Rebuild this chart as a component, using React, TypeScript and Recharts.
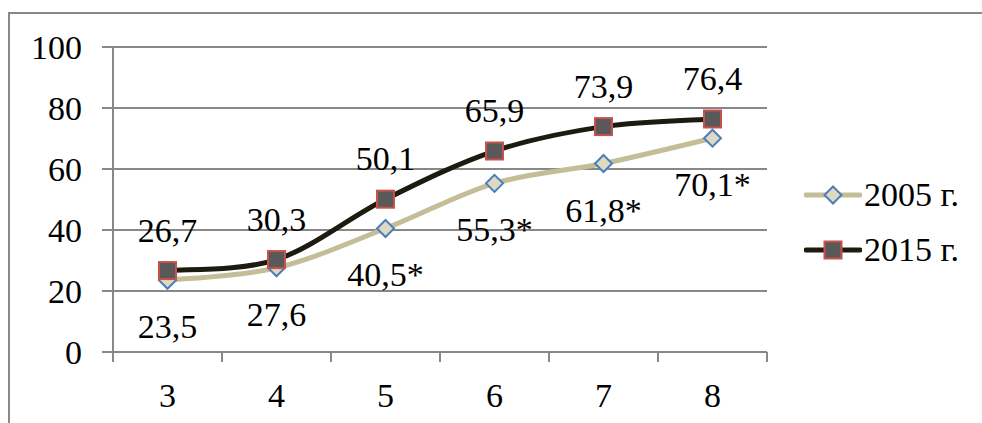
import React from "react";
import { LineChart, Line, XAxis, YAxis, CartesianGrid, LabelList } from "recharts";

// grade (class) on the x axis, share in % on the y axis
const categories = [3, 4, 5, 6, 7, 8];
const values2005 = [23.5, 27.6, 40.5, 55.3, 61.8, 70.1];
const values2015 = [26.7, 30.3, 50.1, 65.9, 73.9, 76.4];
// asterisk marks a significant difference from 2015
const starred2005 = [false, false, true, true, true, true];
const yTicks = [0, 20, 40, 60, 80, 100];

const W = 982;
const H = 423;
const FONT = "'Liberation Serif'";
const GRID = "#888888";

const C2005 = { line: "#c4bd97", fill: "#ddd9c3", stroke: "#4a7ebb" };
const C2015 = { line: "#1d1b10", fill: "#595959", stroke: "#c8504d" };

const series = [
  { key: "y2005", name: "2005 г.", colors: C2005, marker: "diamond" },
  { key: "y2015", name: "2015 г.", colors: C2015, marker: "square" },
];

const data = categories.map((c, i) => ({
  cat: c,
  y2005: values2005[i],
  y2015: values2015[i],
}));

// ticks between categories carry the tick marks, ticks on categories carry labels
const edges = [...categories.map((c) => c - 0.5), categories[categories.length - 1] + 0.5];
const xTicks = [...edges, ...categories].sort((a, b) => a - b);

const fmt = (v: number) => v.toFixed(1).replace(".", ",");

// office-style smoothed line: cubic bezier with catmull-rom tangents
const smoothCurve = (context: any) => {
  let pts: [number, number][] = [];
  return {
    areaStart() {},
    areaEnd() {},
    lineStart() {
      pts = [];
    },
    point(x: number, y: number) {
      pts.push([+x, +y]);
    },
    lineEnd() {
      if (!pts.length) return;
      context.moveTo(pts[0][0], pts[0][1]);
      for (let i = 0; i < pts.length - 1; i++) {
        const p0 = pts[i - 1] ?? pts[i];
        const p1 = pts[i];
        const p2 = pts[i + 1];
        const p3 = pts[i + 2] ?? p2;
        context.bezierCurveTo(
          p1[0] + (p2[0] - p0[0]) / 6,
          p1[1] + (p2[1] - p0[1]) / 6,
          p2[0] - (p3[0] - p1[0]) / 6,
          p2[1] - (p3[1] - p1[1]) / 6,
          p2[0],
          p2[1]
        );
      }
    },
  };
};

const Diamond = ({ cx, cy }: any) => {
  if (cx == null || cy == null) return null;
  const r = 8.5;
  return (
    <path
      d={`M${cx},${cy - r} L${cx + r},${cy} L${cx},${cy + r} L${cx - r},${cy} Z`}
      fill={C2005.fill}
      stroke={C2005.stroke}
      strokeWidth={2}
    />
  );
};

const Square = ({ cx, cy }: any) => {
  if (cx == null || cy == null) return null;
  const h = 8.5;
  return (
    <rect x={cx - h} y={cy - h} width={h * 2} height={h * 2} fill={C2015.fill} stroke={C2015.stroke} strokeWidth={2} />
  );
};

const XTick = ({ x, y, payload }: any) => {
  const v = payload.value as number;
  if (Number.isInteger(v)) {
    return (
      <text x={x} y={y + 55} textAnchor="middle" fontFamily={FONT} fontSize={34} fill="#000">
        {v}
      </text>
    );
  }
  return <line x1={x} x2={x} y1={y} y2={y + 10} stroke={GRID} strokeWidth={2} />;
};

const LabelAbove = ({ x, y, value }: any) => (
  <text x={x} y={y - 29} textAnchor="middle" fontFamily={FONT} fontSize={34} fill="#000">
    {fmt(value)}
  </text>
);

const LabelBelow = ({ x, y, value, index }: any) => (
  <text x={x} y={y + 58} textAnchor="middle" fontFamily={FONT} fontSize={34} fill="#000">
    {fmt(value) + (starred2005[index] ? "*" : "")}
  </text>
);

const LegendItem = ({ s }: { s: (typeof series)[number] }) => (
  <div style={{ display: "flex", alignItems: "center", height: 55 }}>
    <svg width={58} height={24}>
      <line x1={2} x2={56} y1={12} y2={12} stroke={s.colors.line} strokeWidth={5} strokeLinecap="round" />
      {s.marker === "diamond" ? <Diamond cx={29} cy={12} /> : <Square cx={29} cy={12} />}
    </svg>
    <span style={{ fontFamily: FONT, fontSize: 34, marginLeft: 2, color: "#000", lineHeight: "40px" }}>{s.name}</span>
  </div>
);

export default function App() {
  return (
    <div style={{ position: "absolute", left: 0, top: 0, width: W, height: H, overflow: "hidden", background: "#fff" }}>
      <div
        style={{
          position: "absolute",
          left: 8,
          top: 12,
          width: 1100,
          height: 600,
          border: `2px solid ${GRID}`,
          boxSizing: "border-box",
        }}
      />
      <LineChart width={W} height={H} data={data} margin={{ top: 47, right: 215, bottom: 0, left: 0 }}>
        <CartesianGrid vertical={false} stroke={GRID} strokeWidth={2} />
        <XAxis
          dataKey="cat"
          type="number"
          domain={[edges[0], edges[edges.length - 1]]}
          ticks={xTicks}
          interval={0}
          height={71}
          tickLine={false}
          tickSize={0}
          tickMargin={0}
          axisLine={{ stroke: GRID, strokeWidth: 2 }}
          tick={<XTick />}
        />
        <YAxis
          domain={[0, 100]}
          ticks={yTicks}
          width={113}
          tickSize={11}
          tickMargin={20}
          axisLine={{ stroke: GRID, strokeWidth: 2 }}
          tickLine={{ stroke: GRID, strokeWidth: 2 }}
          tick={{ fontFamily: FONT, fontSize: 34, fill: "#000" }}
        />
        <Line
          type={smoothCurve as any}
          dataKey="y2005"
          name={series[0].name}
          stroke={C2005.line}
          strokeWidth={5}
          dot={<Diamond />}
          activeDot={false}
          isAnimationActive={false}
        >
          <LabelList dataKey="y2005" content={<LabelBelow />} />
        </Line>
        <Line
          type={smoothCurve as any}
          dataKey="y2015"
          name={series[1].name}
          stroke={C2015.line}
          strokeWidth={5}
          dot={<Square />}
          activeDot={false}
          isAnimationActive={false}
        >
          <LabelList dataKey="y2015" content={<LabelAbove />} />
        </Line>
      </LineChart>
      <div style={{ position: "absolute", left: 804, top: 167 }}>
        {series.map((s) => (
          <LegendItem key={s.key} s={s} />
        ))}
      </div>
    </div>
  );
}
